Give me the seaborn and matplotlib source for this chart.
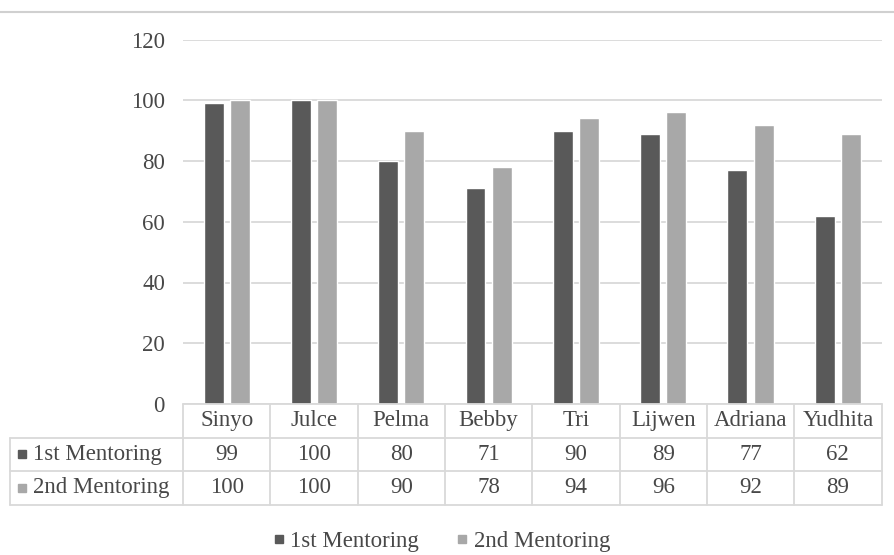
import matplotlib
matplotlib.use("Agg")
import matplotlib.pyplot as plt
from matplotlib.lines import Line2D
import seaborn as sns
import pandas as pd

# Mentoring scores per participant
names = ["Sinyo", "Julce", "Pelma", "Bebby", "Tri", "Lijwen", "Adriana", "Yudhita"]
first_mentoring = [99, 100, 80, 71, 90, 89, 77, 62]
second_mentoring = [100, 100, 90, 78, 94, 96, 92, 89]
series_names = ["1st Mentoring", "2nd Mentoring"]
y_ticks = [0, 20, 40, 60, 80, 100, 120]

DARK = "#595959"
LIGHT = "#a8a8a8"
TEXT = "#484848"
GRID = "#d9d9d9"
FONT = "Liberation Serif"
FS = 16.5

sns.set_theme(style="white")
plt.rcParams["font.family"] = [FONT, "DejaVu Serif"]

W, H = 894, 555
fig = plt.figure(figsize=(W / 100, H / 100), dpi=100)


def fx(px):
    return px / W


def fy(py):
    return 1 - py / H


# plot area in pixel coordinates
left, right, top, bottom = 183, 881.5, 39.5, 404
ax = fig.add_axes([fx(left), fy(bottom), fx(right - left), fy(top) - fy(bottom)])

df = pd.DataFrame({
    "name": names * 2,
    "score": first_mentoring + second_mentoring,
    "series": [series_names[0]] * len(names) + [series_names[1]] * len(names),
})
sns.barplot(data=df, x="name", y="score", hue="series", order=names,
            hue_order=series_names, palette=[DARK, LIGHT], width=0.6, gap=0.24,
            saturation=1, legend=False, ax=ax, zorder=3)

ax.set_ylim(0, 120)
ax.set_xlim(-0.5, len(names) - 0.5)
ax.set_yticks(y_ticks)
ax.set_yticklabels([str(v) for v in y_ticks], fontsize=FS, color=TEXT, family=FONT)
ax.set_xticks([])
ax.set_xlabel("")
ax.set_ylabel("")
ax.tick_params(axis="y", length=0, pad=13)
ax.yaxis.grid(True, color=GRID, lw=1.3, zorder=0)
ax.set_axisbelow(True)
for s in ax.spines.values():
    s.set_visible(False)

# frame line at the top of the chart
fig.add_artist(Line2D([0, 1], [fy(12), fy(12)], color="#d0d0d0", lw=1.5))

# data table under the bars
col_w = (right - left) / len(names)
rows_y = [404, 437.5, 471, 504.5]
tbl_left = 10


def hline(x0, x1, y):
    fig.add_artist(Line2D([fx(x0), fx(x1)], [fy(y), fy(y)], color=GRID, lw=1.3))


def vline(x, y0, y1):
    fig.add_artist(Line2D([fx(x), fx(x)], [fy(y0), fy(y1)], color=GRID, lw=1.3))


hline(left, right, rows_y[0])
for y in rows_y[1:]:
    hline(tbl_left, right, y)
vline(tbl_left, rows_y[1], rows_y[3])
for i in range(len(names) + 1):
    vline(left + i * col_w, rows_y[0], rows_y[3])

txt = dict(fontsize=FS, color=TEXT, family=FONT, va="center")
for i, n in enumerate(names):
    cx = left + (i + 0.5) * col_w
    fig.text(fx(cx), fy((rows_y[0] + rows_y[1]) / 2), n, ha="center", **txt)
    fig.text(fx(cx), fy((rows_y[1] + rows_y[2]) / 2), str(first_mentoring[i]), ha="center", **txt)
    fig.text(fx(cx), fy((rows_y[2] + rows_y[3]) / 2), str(second_mentoring[i]), ha="center", **txt)

for r, (label, color) in enumerate(zip(series_names, [DARK, LIGHT])):
    cy = (rows_y[r + 1] + rows_y[r + 2]) / 2
    fig.add_artist(Line2D([fx(22)], [fy(cy)], marker="s", markersize=6,
                          color=color, lw=0))
    fig.text(fx(33), fy(cy), label, ha="left", **txt)

# legend
handles = [Line2D([], [], marker="s", markersize=6, color=c, lw=0) for c in [DARK, LIGHT]]
leg = fig.legend(handles, series_names, loc="center", bbox_to_anchor=(fx(441), fy(541)),
                 ncol=2, frameon=False, handlelength=0.6, handletextpad=0.2,
                 columnspacing=1.6, prop={"family": FONT, "size": FS})
for t in leg.get_texts():
    t.set_color(TEXT)

fig.savefig("out.png", dpi=100, facecolor="white")
